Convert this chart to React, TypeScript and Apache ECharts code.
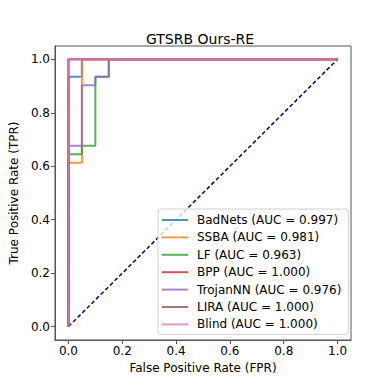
import React, { useEffect, useRef } from "react";
import * as echarts from "echarts";

const titleText = "GTSRB Ours-RE";
const xLabel = "False Positive Rate (FPR)";
const yLabel = "True Positive Rate (TPR)";
const tickValues = [0, 0.2, 0.4, 0.6, 0.8, 1.0];

const seriesNames = ["BadNets", "SSBA", "LF", "BPP", "TrojanNN", "LIRA", "Blind"];
const aucValues = ["0.997", "0.981", "0.963", "1.000", "0.976", "1.000", "1.000"];
const seriesColors = ["#1f77b4", "#ff7f0e", "#2ca02c", "#d62728", "#9467bd", "#8c564b", "#e377c2"];

const badnetsRoc = [[0, 0], [0, 0.935], [0.05, 0.935], [0.05, 1], [1, 1]];
const ssbaRoc = [[0, 0], [0, 0.613], [0.05, 0.613], [0.05, 1], [1, 1]];
const lfRoc = [[0, 0], [0, 0.645], [0.05, 0.645], [0.05, 0.677], [0.1, 0.677], [0.1, 0.935], [0.15, 0.935], [0.15, 1], [1, 1]];
const bppRoc = [[0, 0], [0, 1], [1, 1]];
const trojannnRoc = [[0, 0], [0, 0.677], [0.05, 0.677], [0.05, 0.903], [0.1, 0.903], [0.1, 0.935], [0.15, 0.935], [0.15, 1], [1, 1]];
const liraRoc = [[0, 0], [0, 1], [1, 1]];
const blindRoc = [[0, 0], [0, 1], [1, 1]];
const chanceLine = [[0, 0], [1, 1]];

const rocData = [badnetsRoc, ssbaRoc, lfRoc, bppRoc, trojannnRoc, liraRoc, blindRoc];

const FONT = "DejaVu Sans";

export default function App() {
  const ref = useRef<HTMLDivElement>(null);
  useEffect(() => {
    if (!ref.current) return;
    const chart = echarts.init(ref.current, undefined, { renderer: "svg" });
    const labels = seriesNames.map((n, i) => `${n} (AUC = ${aucValues[i]})`);
    const series: any[] = rocData.map((d, i) => ({
      name: labels[i],
      type: "line",
      data: d,
      symbol: "none",
      color: seriesColors[i],
      lineStyle: { width: 2, color: seriesColors[i], opacity: 0.8 },
      itemStyle: { color: seriesColors[i], opacity: 0.8 },
      emphasis: { disabled: true },
    }));
    series.push({
      name: "chance",
      type: "line",
      data: chanceLine,
      symbol: "none",
      lineStyle: { width: 1.5, color: "#000080", type: [4, 2.5] },
      emphasis: { disabled: true },
      z: 1,
    });
    const axisCommon = {
      type: "value",
      min: -0.05,
      max: 1.05,
      axisLine: { show: true, onZero: false, lineStyle: { color: "#555", width: 1 } },
      axisTick: { show: true, length: 4, customValues: tickValues, lineStyle: { color: "#555" } },
      axisLabel: {
        customValues: tickValues,
        formatter: (v: number) => v.toFixed(1),
        fontFamily: FONT,
        fontSize: 12,
        color: "#000",
      },
      splitLine: { show: false },
      nameLocation: "middle",
      nameTextStyle: { fontFamily: FONT, fontSize: 12, color: "#000" },
    };
    chart.setOption({
      animation: false,
      backgroundColor: "#fff",
      title: {
        text: titleText,
        left: 200,
        top: 32,
        padding: 0,
        textAlign: "center",
        textStyle: { fontFamily: FONT, fontSize: 14, fontWeight: "normal", color: "#000" },
      },
      grid: {
        left: 48,
        right: 39,
        top: 46,
        bottom: 50,
        show: true,
        borderColor: "#555",
        borderWidth: 1,
        backgroundColor: "transparent",
      },
      legend: {
        data: labels,
        orient: "vertical",
        left: 158,
        top: 209,
        padding: [4, 7, 3, 4],
        icon: "rect",
        itemWidth: 26,
        itemHeight: 2,
        itemGap: 3.4,
        backgroundColor: "rgba(255,255,255,0.8)",
        borderColor: "#d0d0d0",
        borderWidth: 1,
        borderRadius: 3,
        textStyle: { fontFamily: FONT, fontSize: 12, color: "#000", padding: [0, 0, 0, 4], lineHeight: 14 },
      },
      xAxis: { ...axisCommon, name: xLabel, nameGap: 16, axisLabel: { ...axisCommon.axisLabel, margin: 5 } },
      yAxis: { ...axisCommon, name: yLabel, nameGap: 23, axisLabel: { ...axisCommon.axisLabel, margin: 5 } },
      series,
    });
    return () => chart.dispose();
  }, []);
  return <div ref={ref} style={{ position: "fixed", left: 0, top: 0, width: 390, height: 390 }} />;
}
